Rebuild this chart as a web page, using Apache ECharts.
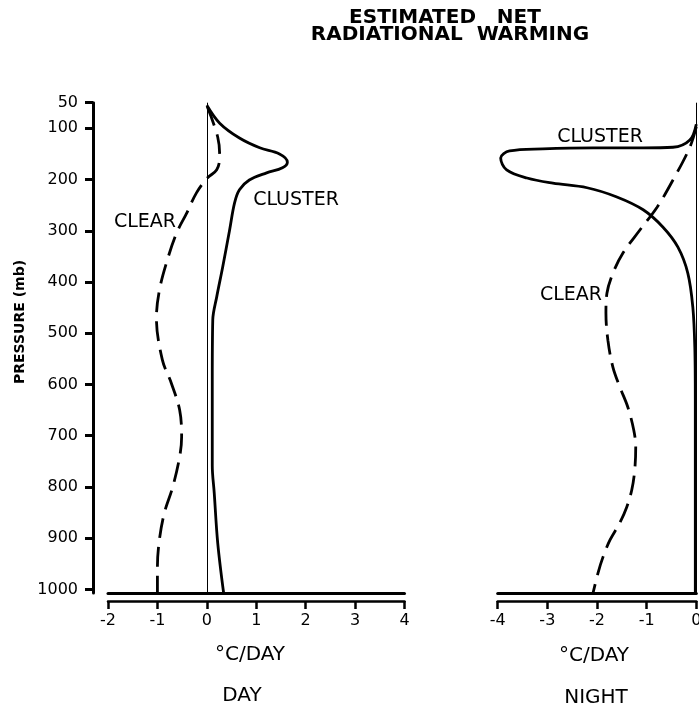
<!DOCTYPE html>
<html>
<head>
<meta charset="utf-8">
<script src="https://cdn.jsdelivr.net/npm/echarts@6/dist/echarts.min.js"></script>
<style>
html,body{margin:0;padding:0;background:#fff;}
#chart{width:699px;height:712px;}
</style>
</head>
<body>
<div id="chart"></div>
<script>
// ---- data (x = °C/day, y = pressure in mb) ----
const pressureTicks = [50, 100, 200, 300, 400, 500, 600, 700, 800, 900, 1000];
const dayCluster = [[0,55],[0.26,90],[0.66,119],[1.07,138],[1.47,150],[1.63,166],[1.53,177],[1.21,187],[0.86,201],[0.66,220],[0.56,246],[0.46,299],[0.32,371],[0.2,429],[0.12,474],[0.11,591],[0.11,758],[0.15,812],[0.22,909],[0.34,1007]];
const dayClear = [[0.01,58],[0.22,117],[0.26,156],[0.2,181],[0.01,197],[-0.21,226],[-0.41,266],[-0.61,304],[-0.8,357],[-0.96,416],[-1.02,470],[-0.9,552],[-0.72,597],[-0.55,650],[-0.51,702],[-0.55,741],[-0.69,800],[-0.86,851],[-0.96,903],[-1.0,956],[-1.0,1007]];
const nightCluster = [[0,92],[-0.13,123],[-0.47,137],[-1.07,138],[-2.08,138],[-3.09,140],[-3.76,144],[-3.94,158],[-3.82,181],[-3.41,197],[-2.89,207],[-2.2,216],[-1.6,234],[-1.07,259],[-0.67,293],[-0.37,332],[-0.17,383],[-0.07,449],[-0.03,527],[-0.02,630],[-0.02,1007]];
const nightClear = [[0,97],[-0.13,137],[-0.47,201],[-0.79,254],[-1.14,299],[-1.48,344],[-1.68,383],[-1.8,422],[-1.82,461],[-1.78,514],[-1.68,566],[-1.54,605],[-1.38,644],[-1.26,689],[-1.22,722],[-1.24,767],[-1.3,806],[-1.4,839],[-1.54,870],[-1.74,904],[-1.88,937],[-1.98,968],[-2.08,1007]];
const dayRange = [-2, 4];
const nightRange = [-4, 0];
const pressureRange = [50, 1007];

const FONT = 'DejaVu Sans';
const chart = echarts.init(document.getElementById('chart'), null, {renderer: 'canvas'});

function labeledX(grid, range) {
  return {
    gridIndex: grid, type: 'value', min: range[0], max: range[1], interval: 1,
    position: 'bottom', offset: 8,
    axisLine: {show: true, onZero: false, lineStyle: {color: '#000', width: 2.5}},
    axisTick: {show: true, inside: false, length: 8, lineStyle: {color: '#000', width: 2.5}},
    axisLabel: {show: true, color: '#000', fontFamily: FONT, fontSize: 16, margin: 12,
      hideOverlap: false, showMinLabel: true, showMaxLabel: true},
    splitLine: {show: false}
  };
}
function baseX(grid, range) {
  return {
    gridIndex: grid, type: 'value', min: range[0], max: range[1],
    position: 'bottom', offset: 0,
    axisLine: {show: true, onZero: false, lineStyle: {color: '#000', width: 3}},
    axisTick: {show: false}, axisLabel: {show: false}, splitLine: {show: false}
  };
}
const zeroLine = {
  silent: true, symbol: ['none', 'none'], label: {show: false},
  lineStyle: {color: '#000', width: 1, type: 'solid'},
  data: [{xAxis: 0}]
};
function curve(name, data, xi, yi, dashed, extra) {
  return Object.assign({
    name: name, type: 'line', data: data, xAxisIndex: xi, yAxisIndex: yi,
    symbol: 'none', smooth: 0.35, clip: false,
    lineStyle: {color: '#000', width: 2.8, type: dashed ? [20, 9] : 'solid', cap: 'butt'}
  }, extra || {});
}

const txt = (x, y, text, size, weight, extra) => Object.assign({
  type: 'text', x: x, y: y,
  style: {text: text, fill: '#000', font: (weight || 'normal') + ' ' + size + 'px "' + FONT + '"', align: 'center', verticalAlign: 'middle'}
}, extra || {});

chart.setOption({
  animation: false,
  backgroundColor: '#fff',
  grid: [
    {left: 108, top: 102.7, width: 296.5, height: 490.3, outerBoundsMode: 'none', containLabel: false},
    {left: 497.7, top: 102.7, width: 198.6, height: 490.3, outerBoundsMode: 'none', containLabel: false}
  ],
  xAxis: [labeledX(0, dayRange), baseX(0, dayRange), labeledX(1, nightRange), baseX(1, nightRange)],
  yAxis: [
    {
      gridIndex: 0, type: 'value', inverse: true, min: pressureRange[0], max: pressureRange[1],
      position: 'left', offset: 15,
      axisLine: {show: true, onZero: false, lineStyle: {color: '#000', width: 3}},
      axisTick: {show: true, customValues: pressureTicks, length: 8, lineStyle: {color: '#000', width: 3}},
      axisLabel: {show: true, customValues: pressureTicks, color: '#000', fontFamily: FONT, fontSize: 16, margin: 15,
        formatter: v => String(v)},
      splitLine: {show: false}
    },
    {
      gridIndex: 1, type: 'value', inverse: true, min: pressureRange[0], max: pressureRange[1],
      show: false, splitLine: {show: false}
    }
  ],
  series: [
    curve('Day cluster', dayCluster, 0, 0, false, {markLine: zeroLine}),
    curve('Day clear', dayClear, 0, 0, true),
    curve('Night cluster', nightCluster, 2, 1, false, {markLine: zeroLine}),
    curve('Night clear', nightClear, 2, 1, true)
  ],
  graphic: [
    txt(445, 18, 'ESTIMATED   NET', 20, 'bold'),
    txt(450, 35, 'RADIATIONAL  WARMING', 20, 'bold'),
    txt(20, 322, 'PRESSURE (mb)', 14, 'bold', {rotation: Math.PI / 2}),
    txt(296, 200, 'CLUSTER', 19),
    txt(145, 222, 'CLEAR', 19),
    txt(600, 137, 'CLUSTER', 19),
    txt(571, 295, 'CLEAR', 19),
    txt(250, 655, '°C/DAY', 20),
    txt(242, 696, 'DAY', 20),
    txt(594, 656, '°C/DAY', 20),
    txt(596, 698, 'NIGHT', 20)
  ]
});
</script>
</body>
</html>
